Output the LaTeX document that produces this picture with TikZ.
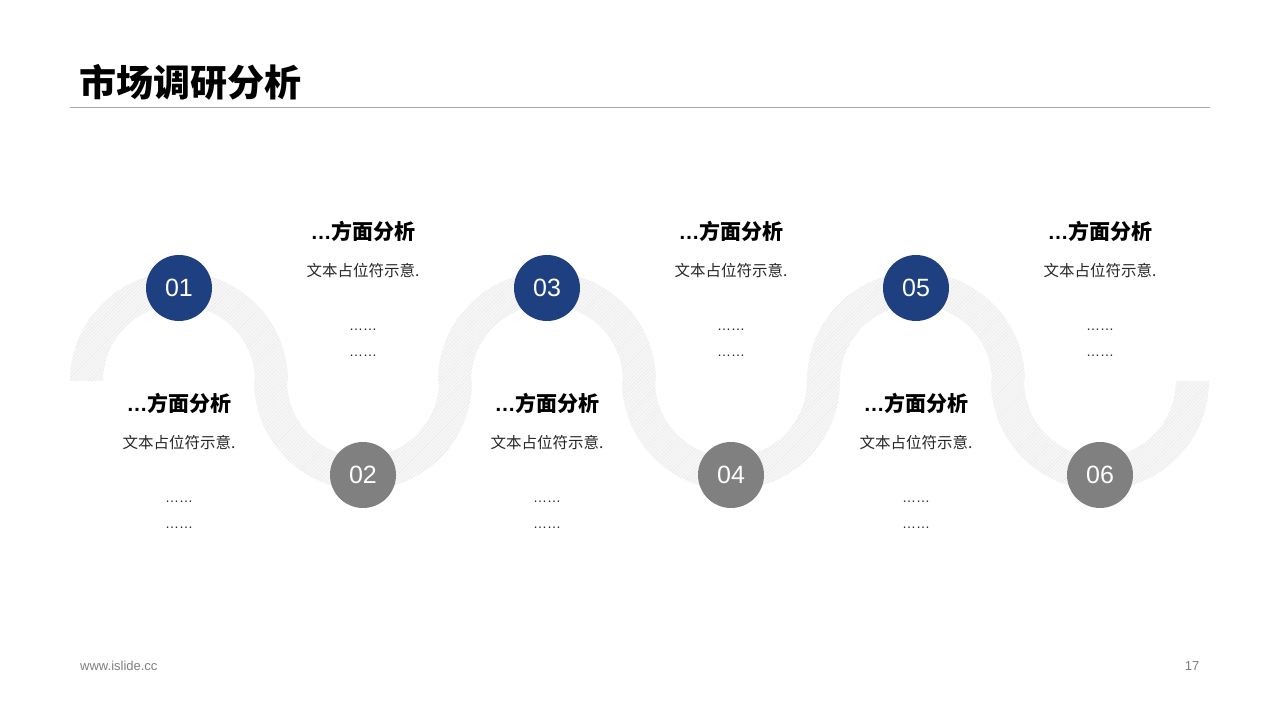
\documentclass[tikz,border=0pt]{standalone}
\usepackage{fontspec}
\setmainfont{Liberation Sans}
\newfontfamily\cjk{Noto Sans CJK SC}
\usetikzlibrary{patterns.meta}
\definecolor{navy}{RGB}{30,63,128}
\definecolor{midgray}{RGB}{128,128,128}
\definecolor{rulegray}{RGB}{166,166,166}
\definecolor{footgray}{RGB}{127,127,127}
\tikzset{
  bandbase/.style={fill=black!3},
  bandhatch/.style={pattern={Lines[angle=45,distance=2.5pt,line width=0.4pt]},pattern color=black!9},
  stepdot/.style={circle,minimum size=66pt,inner sep=0pt,text=white,font=\fontsize{25}{28}\selectfont},
  upcirc/.style={stepdot,fill=navy},
  lowcirc/.style={stepdot,fill=midgray},
  headtxt/.style={font=\fontsize{21}{25}\selectfont\bfseries\cjk,text=black,inner sep=0pt},
  bodytxt/.style={font=\fontsize{15.5}{19}\selectfont\cjk,text=black!85,inner sep=0pt},
  dottxt/.style={font=\fontsize{14}{16}\selectfont,text=black!85,inner sep=0pt},
  foottxt/.style={font=\fontsize{13}{15}\selectfont,text=footgray,inner sep=0pt}
}
\newcommand{\upband}[1]{%
  \path[bandbase] (#1-109,339) arc[start angle=180,end angle=0,radius=109] -- (#1+76,339) arc[start angle=0,end angle=180,radius=76] -- cycle;
  \path[bandhatch] (#1-109,339) arc[start angle=180,end angle=0,radius=109] -- (#1+76,339) arc[start angle=0,end angle=180,radius=76] -- cycle;}
\newcommand{\lowband}[1]{%
  \path[bandbase] (#1-109,339) arc[start angle=180,end angle=360,radius=109] -- (#1+76,339) arc[start angle=360,end angle=180,radius=76] -- cycle;
  \path[bandhatch] (#1-109,339) arc[start angle=180,end angle=360,radius=109] -- (#1+76,339) arc[start angle=360,end angle=180,radius=76] -- cycle;}
\begin{document}
\begin{tikzpicture}[x=1pt,y=1pt]
\useasboundingbox (0,0) rectangle (1280,720);
\fill[white] (0,0) rectangle (1280,720);
% title
\node[anchor=west,inner sep=0pt,font=\fontsize{37}{42}\selectfont\bfseries\cjk] (title) at (79,638) {市场调研分析};
\draw[rulegray,line width=1pt] (70,612) -- (1210,612);
% band
\upband{179}
\lowband{363}
\upband{547}
\lowband{731}
\upband{916}
\lowband{1100}
% circles
\node[upcirc] (c1) at (179,432) {01};
\node[lowcirc] (c2) at (363,245) {02};
\node[upcirc] (c3) at (547,432) {03};
\node[lowcirc] (c4) at (731,245) {04};
\node[upcirc] (c5) at (916,432) {05};
\node[lowcirc] (c6) at (1100,245) {06};
% upper texts
\foreach \i/\x in {2/363,4/731,6/1100}{
  \node[headtxt] (h\i) at (\x,489) {{\rmfamily\bfseries …}方面分析};
  \node[bodytxt] (b\i) at (\x,449) {文本占位符示意.};
  \node[dottxt] (d\i a) at (\x,390) {……};
  \node[dottxt] (d\i b) at (\x,364) {……};
}
% lower texts
\foreach \i/\x in {1/179,3/547,5/916}{
  \node[headtxt] (h\i) at (\x,317) {{\rmfamily\bfseries …}方面分析};
  \node[bodytxt] (b\i) at (\x,277) {文本占位符示意.};
  \node[dottxt] (d\i a) at (\x,218) {……};
  \node[dottxt] (d\i b) at (\x,192) {……};
}
% footer
\node[foottxt,anchor=west] (site) at (80,54) {www.islide.cc};
\node[foottxt] (page) at (1192,54) {17};
\end{tikzpicture}
\end{document}
